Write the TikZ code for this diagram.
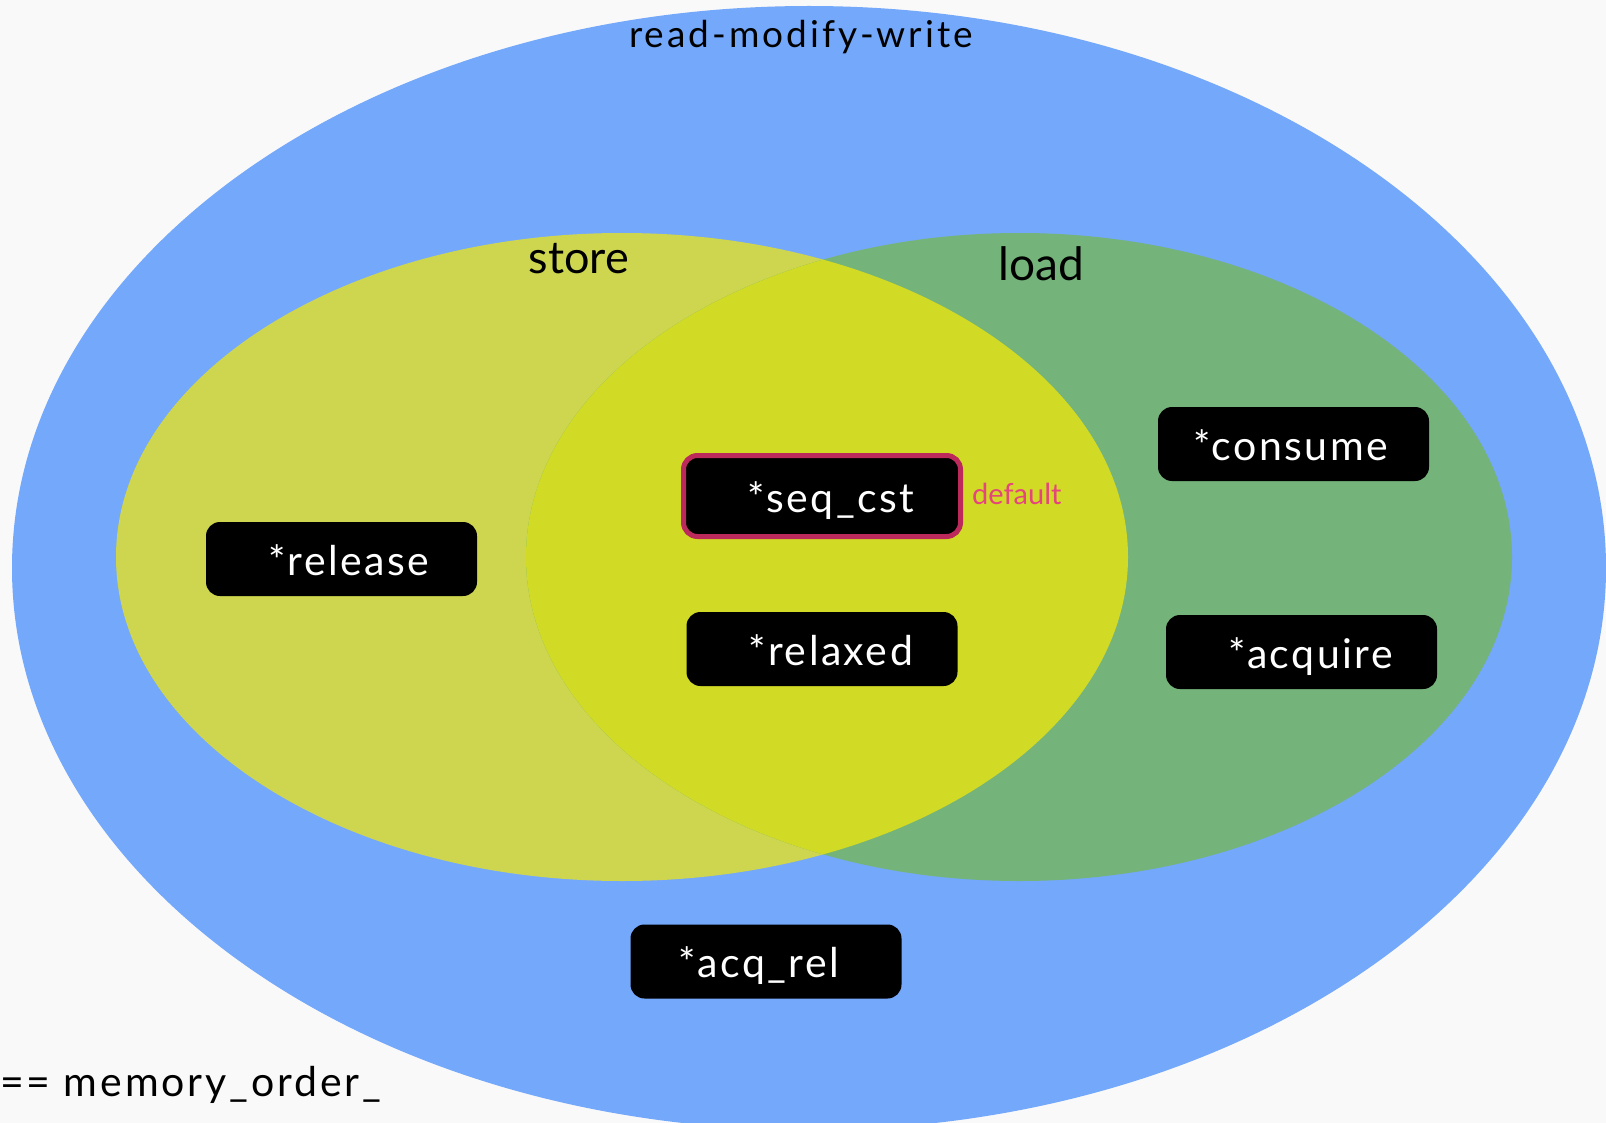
\documentclass[tikz,border=0pt]{standalone}
\usepackage{fontspec}
\setmainfont{Lato}
\definecolor{bgc}{HTML}{F9F9F9}
\definecolor{rmw}{HTML}{74A8FA}
\definecolor{storec}{HTML}{CED650}
\definecolor{loadc}{HTML}{74B47A}
\definecolor{bothc}{HTML}{D1DA24}
\definecolor{seqborder}{HTML}{BC2A5C}
\definecolor{defc}{HTML}{E5457D}
\newcommand{\btxt}[3]{\makebox[#1][l]{\hspace*{#2}#3}}
\begin{document}
\begin{tikzpicture}[x=1pt,y=-1pt,
  obox/.style={fill=black, rounded corners=14pt, minimum width=271pt, minimum height=74pt, inner sep=0pt, text=white, font=\fontsize{41}{41}\selectfont\addfontfeature{LetterSpace=6}, text height=32pt, text depth=0pt},
  lbl/.style={anchor=base, inner sep=0pt}]
\useasboundingbox (0,0) rectangle (1606,1123);
\fill[bgc] (0,0) rectangle (1606,1123);
\begin{scope}
\clip (0,0) rectangle (1606,1123);
\fill[rmw] (809,568) ellipse [x radius=797, y radius=562];
\end{scope}
\fill[storec] (622,557) ellipse [x radius=506, y radius=324];
\fill[loadc] (1019,557) ellipse [x radius=493, y radius=324];
\begin{scope}
\clip (622,557) ellipse [x radius=506, y radius=324];
\fill[bothc] (1019,557) ellipse [x radius=493, y radius=324];
\end{scope}
\node[obox] (release) at (341.5,559) {\btxt{271pt}{62pt}{*release}};
\node[obox] (acqrel) at (766,961.5) {\btxt{271pt}{48pt}{*acq\_rel}};
\node[obox] (consume) at (1293.5,444) {\btxt{271pt}{35pt}{*consume}};
\node[obox] (acquire) at (1301.5,652) {\btxt{271pt}{62pt}{*acquire}};
\node[obox] (relaxed) at (822,649) {\btxt{271pt}{62pt}{*relaxed}};
\node[obox, draw=seqborder, line width=5pt, minimum width=277pt, minimum height=81pt] (seqcst) at (822,496) {\btxt{277pt}{64pt}{*seq\_cst}};
\node[lbl, font=\fontsize{37}{37}\selectfont\addfontfeature{LetterSpace=8}] (rmwlbl) at (801,48) {read-modify-write};
\node[lbl, font=\fontsize{45}{45}\selectfont] (storelbl) at (579,274) {store};
\node[lbl, font=\fontsize{46}{46}\selectfont] (loadlbl) at (1041,280) {load};
\node[lbl, anchor=base west, text=defc, font=\fontsize{29}{29}\selectfont] (deflbl) at (972,504) {default};
\node[lbl, anchor=base west, font=\fontsize{41}{41}\selectfont\addfontfeature{LetterSpace=7}] (mo) at (0,1096) {== memory\_order\_};
\end{tikzpicture}
\end{document}
